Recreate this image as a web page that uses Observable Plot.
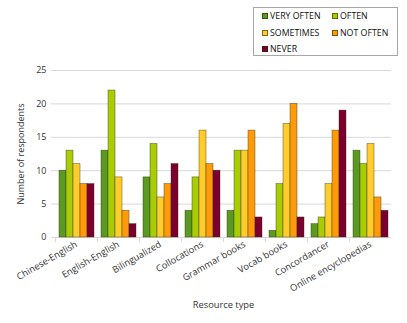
<!DOCTYPE html>
<html>
<head>
<meta charset="utf-8">
<script src="https://cdn.jsdelivr.net/npm/d3@7"></script>
<script src="https://cdn.jsdelivr.net/npm/@observablehq/plot@0.6"></script>
<style>
  body { margin: 0; background: #fff; font-family: "Open Sans", sans-serif; }
  #wrap { position: relative; width: 407px; height: 323px; }
  #legend {
    position: absolute; left: 253px; top: 7px; width: 145px; height: 49px;
    border: 1px solid #a6a6a6; box-sizing: border-box; background: #fff;
    font-size: 8.8px; color: #111;
  }
  .item { position: absolute; display: flex; align-items: center; white-space: nowrap; line-height: 10px; }
  .sw { width: 6px; height: 6px; margin-right: 2px; box-sizing: border-box; border: 0.6px solid rgba(40,40,0,0.6); }
</style>
</head>
<body>
<div id="wrap">
  <div id="chart"></div>
  <div id="legend"></div>
</div>
<script>
// Resource types along the x axis
const categories = [
  "Chinese-English", "English-English", "Bilingualized", "Collocations",
  "Grammar books", "Vocab books", "Concordancer", "Online encyclopedias"
];
// Frequency-of-use answers (one bar each per resource)
const series = ["VERY OFTEN", "OFTEN", "SOMETIMES", "NOT OFTEN", "NEVER"];
const colors = ["#5a9a22", "#a8cc05", "#ffcc2e", "#ff9a0a", "#7b0030"];

// Number of respondents per answer, in category order
const veryOften = [10, 13, 9, 4, 4, 1, 2, 13];
const often     = [13, 22, 14, 9, 13, 8, 3, 11];
const sometimes = [11, 9, 6, 16, 13, 17, 8, 14];
const notOften  = [8, 4, 8, 11, 16, 20, 16, 6];
const never     = [8, 2, 11, 10, 3, 3, 19, 4];
const yTicks = [0, 5, 10, 15, 20, 25];

const seriesValues = [veryOften, often, sometimes, notOften, never];
const rows = [];
categories.forEach((c, i) => {
  series.forEach((s, j) => rows.push({category: c, answer: s, count: seriesValues[j][i]}));
});

const gridColor = "#d9d9d9";

const chart = Plot.plot({
  width: 407,
  height: 323,
  marginTop: 70,
  marginBottom: 86,
  marginLeft: 52,
  marginRight: 14,
  style: {fontFamily: "Open Sans, sans-serif", fontSize: "9px", color: "#333", background: "transparent"},
  fx: {domain: categories, padding: 0},
  x: {domain: series, paddingInner: 0, paddingOuter: 0.46, axis: null},
  y: {domain: [0, 25]},
  color: {domain: series, range: colors},
  marks: [
    Plot.gridY(yTicks, {stroke: gridColor, strokeOpacity: 1}),
    Plot.axisY(yTicks, {
      tickSize: 4, tickPadding: 5, stroke: gridColor, line: true,
      label: "Number of respondents", labelAnchor: "center", labelArrow: "none",
      labelOffset: 38, fontSize: 9
    }),
    Plot.axisY({anchor: "right", ticks: [], tickSize: 0, line: true, stroke: gridColor, label: null}),
    // short separators below the baseline between resource groups
    Plot.frame({anchor: "left", stroke: gridColor, insetTop: 167, insetBottom: -4}),
    Plot.barY(rows, {
      fx: "category", x: "answer", y: "count", fill: "answer",
      stroke: "#2e2e00", strokeOpacity: 0.55, strokeWidth: 0.7
    }),
    Plot.axisFx({
      anchor: "bottom", tickSize: 0, tickPadding: 6, tickRotate: -30,
      label: "Resource type", labelAnchor: "center", labelArrow: "none",
      labelOffset: 70, fontSize: 9.3
    })
  ]
});
document.getElementById("chart").appendChild(chart);

// Legend: two columns, three rows
const legend = d3.select("#legend");
const pos = [[8, 8], [78, 8], [8, 25], [78, 25], [8, 41]];
series.forEach((s, i) => {
  const item = legend.append("div").attr("class", "item")
    .style("left", pos[i][0] + "px").style("top", (pos[i][1] - 5) + "px");
  item.append("div").attr("class", "sw").style("background", colors[i]);
  item.append("span").text(s);
});
</script>
</body>
</html>
